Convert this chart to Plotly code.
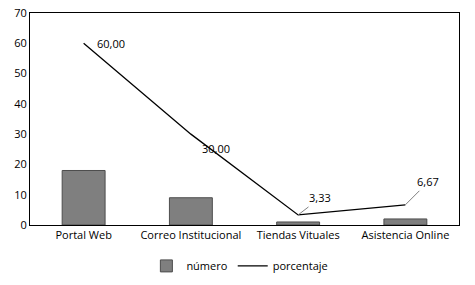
import plotly.graph_objects as go

categories = ["Portal Web", "Correo Institucional", "Tiendas Vituales", "Asistencia Online"]
numero = [18, 9, 1, 2]
porcentaje = [60.00, 30.00, 3.33, 6.67]
pct_labels = ["60,00", "30,00", "3,33", "6,67"]
y_ticks = [0, 10, 20, 30, 40, 50, 60, 70]

FONT = "Open Sans"

fig = go.Figure()
fig.add_trace(go.Bar(
    x=categories, y=numero, name="número",
    marker=dict(color="#7f7f7f", line=dict(color="#4d4d4d", width=1)),
    width=0.4,
))
fig.add_trace(go.Scatter(
    x=categories, y=porcentaje, name="porcentaje", mode="lines",
    line=dict(color="black", width=1.3),
))

# label offsets (pixels) and whether a leader line is drawn
offsets = [(27, 0, False), (25, 14, False), (22, -17, True), (23, -23, True)]
for cat, val, lab, (ax, ay, arrow) in zip(categories, porcentaje, pct_labels, offsets):
    fig.add_annotation(
        x=cat, y=val, text=lab, showarrow=True, ax=ax, ay=ay,
        arrowhead=0, arrowwidth=1, arrowcolor="#808080" if arrow else "rgba(0,0,0,0)",
        standoff=0, font=dict(family=FONT, size=11, color="black"),
    )

fig.update_layout(
    width=475, height=285,
    margin=dict(l=30, r=16, t=13, b=60, autoexpand=False),
    plot_bgcolor="white", paper_bgcolor="white",
    font=dict(family=FONT, size=11, color="black"),
    showlegend=True,
    legend=dict(orientation="h", x=0.505, xanchor="center", xref="container",
                y=0.067, yanchor="middle", yref="container",
                font=dict(family=FONT, size=11), itemwidth=30),
    bargap=0.6,
)
fig.update_xaxes(showline=True, mirror=True, linecolor="black", linewidth=1,
                 showgrid=False, ticks="", automargin=False,
                 tickfont=dict(family=FONT, size=11))
fig.update_yaxes(range=[0, 70], tickvals=y_ticks, showline=True, mirror=True,
                 linecolor="black", linewidth=1, showgrid=False, zeroline=False,
                 ticks="", automargin=False, ticklabeloverflow="allow",
                 tickfont=dict(family=FONT, size=11))

# remove the page's default 8px body margin so the figure fills the window
fig.write_html("out.html", config={"displayModeBar": False},
               post_script="document.body.style.margin='0px';")
